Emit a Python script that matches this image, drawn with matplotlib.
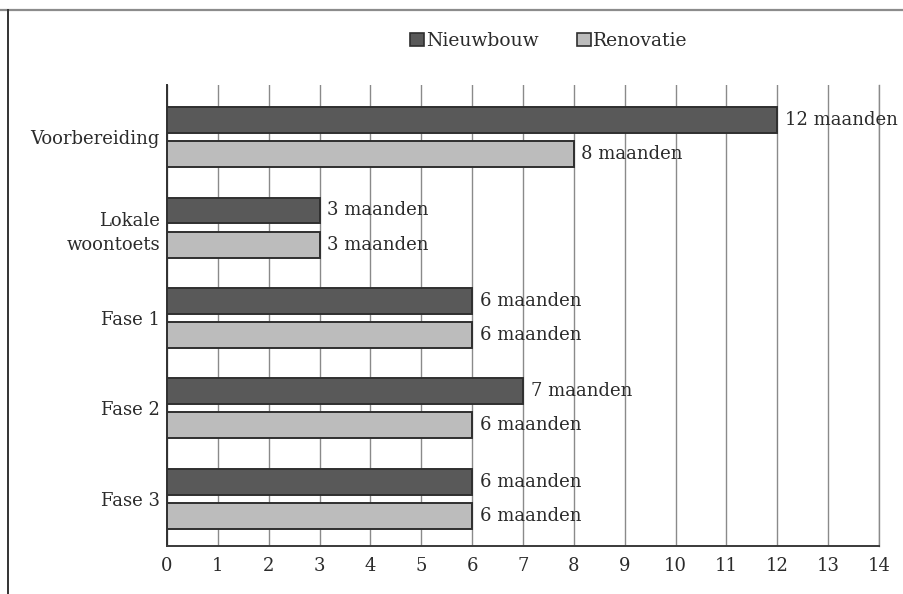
import matplotlib
matplotlib.use("Agg")
import matplotlib.pyplot as plt
from matplotlib.lines import Line2D
from matplotlib.patches import Patch
import numpy as np

categories = ["Voorbereiding", "Lokale\nwoontoets", "Fase 1", "Fase 2", "Fase 3"]
nieuwbouw = [12, 3, 6, 7, 6]
renovatie = [8, 3, 6, 6, 6]
series_names = ["Nieuwbouw", "Renovatie"]
x_ticks = list(range(0, 15))

plt.rcParams["font.family"] = ["DejaVu Serif"]
text_color = "#2b2b2b"
dark_fill = "#595959"
light_fill = "#bcbcbc"
edge = "#2f2f2f"

fig = plt.figure(figsize=(9.04, 5.94), dpi=100)
ax = fig.add_axes([0.1847, 0.0808, 0.7876, 0.7761])

y = np.arange(len(categories))
bar_h = 0.287
offset = 0.188
b1 = ax.barh(y - offset, nieuwbouw, height=bar_h, color=dark_fill,
             edgecolor=edge, linewidth=1.4, zorder=3, label=series_names[0])
b2 = ax.barh(y + offset, renovatie, height=bar_h, color=light_fill,
             edgecolor=edge, linewidth=1.4, zorder=3, label=series_names[1])

for bars, vals in ((b1, nieuwbouw), (b2, renovatie)):
    for rect, v in zip(bars, vals):
        ax.text(v + 0.15, rect.get_y() + rect.get_height() / 2,
                f"{v} maanden", va="center", ha="left",
                fontsize=13, color=text_color, zorder=4)

ax.set_xlim(0, 14)
ax.set_ylim(len(categories) - 1 + 0.52, -0.575)
ax.set_xticks(x_ticks)
ax.set_xticklabels([str(t) for t in x_ticks])
ax.set_yticks(y)
ax.set_yticklabels(categories, ha="right", linespacing=1.45)

ax.tick_params(axis="both", length=0, labelsize=13, colors=text_color)
ax.tick_params(axis="x", pad=8)
ax.tick_params(axis="y", pad=5)

ax.grid(axis="x", color="#8a8a8a", linewidth=1.0, zorder=0)
ax.axvline(14, color="#8a8a8a", linewidth=1.0, zorder=0, clip_on=False)
ax.set_axisbelow(True)
for side in ("top", "right"):
    ax.spines[side].set_visible(False)
ax.spines["left"].set_color("#2f2f2f")
ax.spines["left"].set_linewidth(1.4)
ax.spines["bottom"].set_color("#3a3a3a")
ax.spines["bottom"].set_linewidth(1.4)

handles = [Patch(facecolor=dark_fill, edgecolor=edge, linewidth=1.2),
           Patch(facecolor=light_fill, edgecolor=edge, linewidth=1.2)]
fig.legend(handles, series_names, loc="center", bbox_to_anchor=(0.607, 0.931),
           ncol=2, frameon=False, fontsize=13.5, handlelength=0.75,
           handleheight=0.75, handletextpad=0.15, columnspacing=2.0,
           labelcolor=text_color)

# outer frame lines
fig.add_artist(Line2D([0, 1], [1 - 9.5 / 594, 1 - 9.5 / 594],
                      transform=fig.transFigure, color="#8c8c8c", linewidth=1.6))
fig.add_artist(Line2D([7.5 / 904, 7.5 / 904], [0, 1 - 9.5 / 594],
                      transform=fig.transFigure, color="#333333", linewidth=1.4))

fig.savefig("out.png", dpi=100, facecolor="white")
